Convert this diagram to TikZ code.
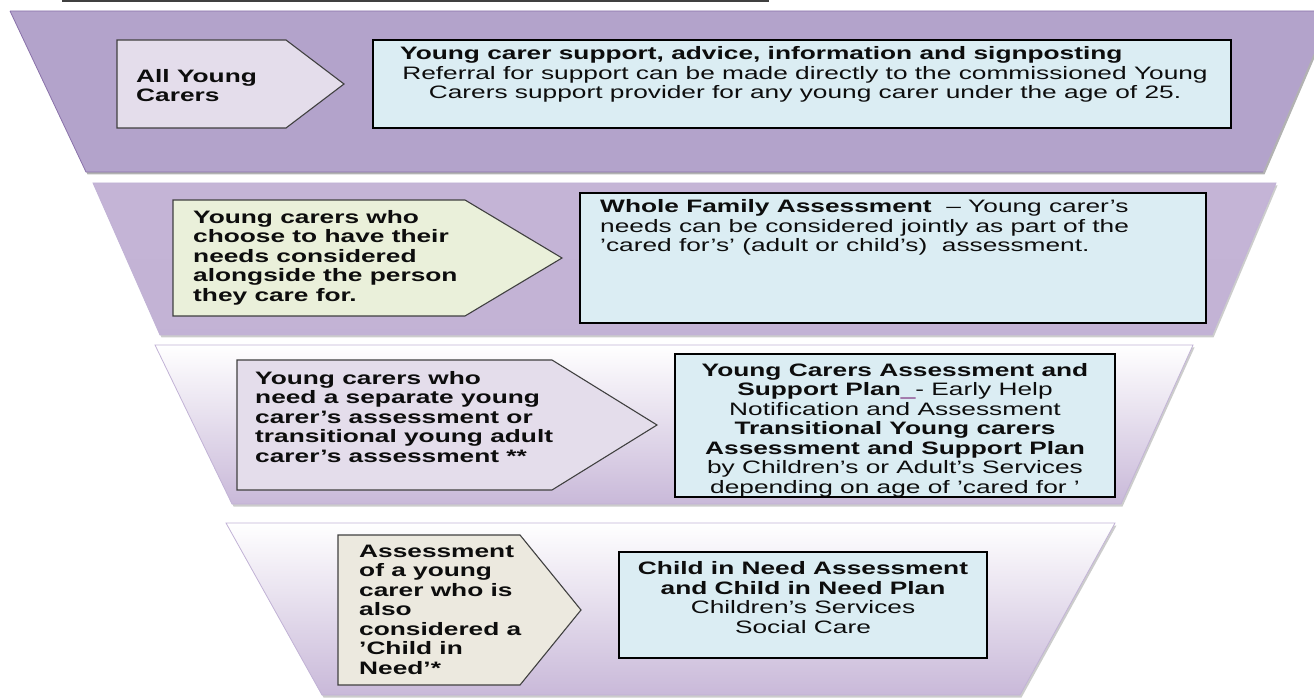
\documentclass[tikz,border=0pt]{standalone}
\usepackage{fontspec}
\setmainfont{Liberation Sans}[FakeStretch=1.46]
\usetikzlibrary{positioning}

\definecolor{deepband}{HTML}{8263A3}
\definecolor{paleband}{HTML}{B3A3CB}
\definecolor{lilac}{HTML}{C9B9D9}
\definecolor{mistband}{HTML}{E5DEEF}
\definecolor{edgeband}{HTML}{8A72AA}
\definecolor{edgelight}{HTML}{C2B3D6}
\definecolor{stagelav}{HTML}{E4DDEB}
\definecolor{stagegreen}{HTML}{EAF0DA}
\definecolor{stagetan}{HTML}{ECE9DF}
\definecolor{boxblue}{HTML}{DBEDF3}
\definecolor{markpurple}{HTML}{7A2A7A}

\tikzset{
  stage/.style={draw=black!75, line width=1.1pt},
  outcome/.style={draw=black, line width=1.4pt, fill=boxblue, inner sep=0pt, outer sep=0pt, anchor=north west},
  words/.style={inner sep=0pt, text=black!95, font=\fontsize{18}{19.5}\selectfont},
  strong/.style={words, font=\fontsize{18}{19.5}\selectfont\bfseries},
  shadow/.style={fill=black, opacity=.3, shift={(1.5,2.5)}}
}

\begin{document}
\begin{tikzpicture}[x=1pt,y=-1pt]
\useasboundingbox (0,0) rectangle (1314,700);

\draw[line width=2.5pt, black!75] (63,-4) -- (63,1.2) -- (768,1.2) -- (768,-4);

% funnel bands
\fill[shadow] (10,11) -- (1332,11) -- (1263,172) -- (86,172) -- cycle;
\shade[top color=paleband, middle color=deepband, bottom color=paleband] (10,11) -- (1332,11) -- (1263,172) -- (86,172) -- cycle;
\draw[edgeband, line width=0.8pt] (10,11) -- (1332,11) (1263,172) -- (86,172) -- (10,11);

\fill[shadow, opacity=.2] (93,183) -- (1276,183) -- (1212,335) -- (160,335) -- cycle;
\shade[top color=lilac!80!paleband, middle color=mistband, bottom color=lilac!70!paleband] (93,183) -- (1276,183) -- (1212,335) -- (160,335) -- cycle;
\draw[edgelight, line width=0.8pt] (93,183) -- (1276,183) -- (1212,335) -- (160,335) -- cycle;

\fill[shadow, opacity=.2] (155,345) -- (1193,345) -- (1121,504) -- (232,504) -- cycle;
\shade[top color=white, bottom color=lilac] (155,345) -- (1193,345) -- (1121,504) -- (232,504) -- cycle;
\draw[edgelight, line width=0.8pt] (155,345) -- (1193,345) -- (1121,504) -- (232,504) -- cycle;

\fill[shadow, opacity=.2] (226,523) -- (1115,523) -- (1020,695) -- (322,695) -- cycle;
\shade[top color=white, bottom color=lilac] (226,523) -- (1115,523) -- (1020,695) -- (322,695) -- cycle;
\draw[edgelight, line width=0.8pt] (226,523) -- (1115,523) -- (1020,695) -- (322,695) -- cycle;

% who
\filldraw[stage, fill=stagelav] (117,40) -- (286,40) -- (344,84) -- (286,128) -- (117,128) -- cycle;
\filldraw[stage, fill=stagegreen] (173,200) -- (465,200) -- (562,258) -- (465,316) -- (173,316) -- cycle;
\filldraw[stage, fill=stagelav] (237,360) -- (552,360) -- (657,425) -- (552,490) -- (237,490) -- cycle;
\filldraw[stage, fill=stagetan] (338,535) -- (520,535) -- (581,610) -- (520,685) -- (338,685) -- cycle;

\node[strong, anchor=west, align=left] (allcarers) at (136,85.5) {All Young\\Carers};
\node[strong, anchor=west, align=left] (jointcarers) at (193,257.5) {Young carers who\\choose to have their\\needs considered\\alongside the person\\they care for.};
\node[strong, anchor=west, align=left] (sepcarers) at (255,417) {Young carers who\\need a separate young\\carer's assessment or\\transitional young adult\\carer's assessment **};
\node[strong, anchor=west, align=left] (needcarers) at (359,609.5) {Assessment\\of a young\\carer who is\\also\\considered a\\'Child in\\Need'*};

% what
\node[outcome, minimum width=858pt, minimum height=88pt] (support) at (373,40) {};
\node[strong, anchor=west] (supporthead) at (400,55) {Young carer support, advice, information and signposting};
\node[words, align=center] (supporttext) at (805,84.5) {Referral for support can be made directly to the commissioned Young\\Carers support provider for any young carer under the age of 25.};

\node[outcome, minimum width=626pt, minimum height=130pt] (family) at (580,193) {};
\node[words, anchor=west, align=left] (familytext) at (600,227.5) {\textbf{Whole Family Assessment}\ \ -- Young carer's\\needs can be considered jointly as part of the\\'cared for's' (adult or child's)\ \ assessment.};

\node[outcome, minimum width=440pt, minimum height=143pt] (plan) at (675,354) {};
\begin{scope}
\clip (plan.north west) rectangle (plan.south east);
\node[words, align=center] (plantext) at (895,430) {\textbf{Young Carers Assessment and}\\\textbf{Support Plan}{\color{markpurple}\_}- Early Help\\Notification and Assessment\\\textbf{Transitional Young carers}\\\textbf{Assessment and Support Plan}\\by Children's or Adult's Services\\depending on age of 'cared for '};
\end{scope}
\draw[line width=1.4pt] (plan.north west) rectangle (plan.south east);

\node[outcome, minimum width=368pt, minimum height=106pt] (needplan) at (619,552) {};
\node[words, align=center] (needtext) at (803,597.5) {\textbf{Child in Need Assessment}\\\textbf{and Child in Need Plan}\\Children's Services\\Social Care};
\end{tikzpicture}
\end{document}
